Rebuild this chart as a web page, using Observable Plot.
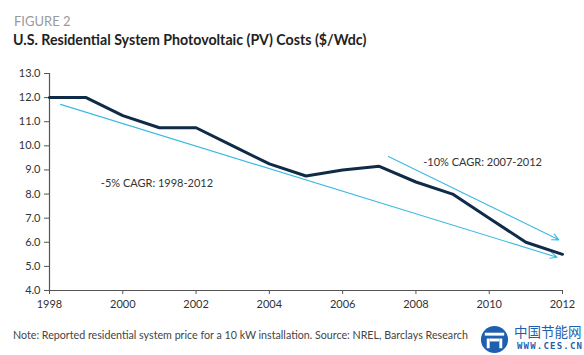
<!DOCTYPE html>
<html>
<head>
<meta charset="utf-8">
<script src="https://cdn.jsdelivr.net/npm/d3@7"></script>
<script src="https://cdn.jsdelivr.net/npm/@observablehq/plot@0.6"></script>
<style>
  html, body { margin: 0; padding: 0; background: #fff; }
  #wrap { position: relative; width: 584px; height: 355px; overflow: hidden; font-family: Lato, "Open Sans", sans-serif; }
  #fig { position: absolute; left: 14px; top: 14px; font-size: 13px; line-height: 15px; color: #9a9a9a; }
  #title { position: absolute; left: 13px; top: 31px; font-size: 14.2px; line-height: 17px; font-weight: bold; color: #222; }
  #chart { position: absolute; left: 0; top: 52px; }
  #note { position: absolute; left: 13px; top: 328px; font-size: 10.7px; color: #444; white-space: nowrap; }
  #logo { position: absolute; left: 479px; top: 324px; }
  #cn { position: absolute; left: 514px; top: 322px; font-family: "Noto Sans CJK SC"; font-size: 13.5px; line-height: 18px; color: #1f5fb0; }
  #url { position: absolute; left: 517px; top: 341px; font-family: "DejaVu Sans Mono"; font-size: 9px; font-weight: bold; color: #1f5fb0; letter-spacing: 1.2px; }
</style>
</head>
<body>
<div id="wrap">
  <div id="fig">FIGURE 2</div>
  <div id="title">U.S. Residential System Photovoltaic (PV) Costs ($/Wdc)</div>
  <div id="chart"></div>
  <div id="note">Note: Reported residential system price for a 10 kW installation. Source: NREL, Barclays Research</div>
  <svg id="logo" width="31" height="31" viewBox="0 0 30 32">
    <circle cx="15" cy="16" r="14" fill="#1f5fb0"/>
    <rect x="5" y="9" width="20" height="3" fill="#fff"/>
    <rect x="7" y="15" width="3" height="10" fill="#fff"/>
    <rect x="20" y="15" width="3" height="10" fill="#fff"/>
    <rect x="10" y="15" width="10" height="3" fill="#fff"/>
  </svg>
  <div id="cn">中国节能网</div>
  <div id="url">WWW.CES.CN</div>
</div>
<script>
// ---- data ----
const years = [1998, 1999, 2000, 2001, 2002, 2003, 2004, 2005, 2006, 2007, 2008, 2009, 2010, 2011, 2012];
const costs = [12.0, 12.0, 11.25, 10.75, 10.75, 10.0, 9.25, 8.75, 9.0, 9.15, 8.5, 8.0, 7.0, 6.0, 5.5];

const trendLabels = ["-5% CAGR: 1998-2012", "-10% CAGR: 2007-2012"];
const trendStartX = [1998.3, 2007.25];
const trendStartY = [11.72, 9.56];
const trendEndX = [2011.85, 2011.9];
const trendEndY = [5.38, 6.1];
const labelX = [1999.4, 2008.2];
const labelY = [8.44, 9.31];

const xTicks = [1998, 2000, 2002, 2004, 2006, 2008, 2010, 2012];
const yTicks = [4, 5, 6, 7, 8, 9, 10, 11, 12, 13];

const series = years.map((y, i) => ({year: y, cost: costs[i]}));
const trends = trendLabels.map((l, i) => ({
  label: l, x1: trendStartX[i], y1: trendStartY[i], x2: trendEndX[i], y2: trendEndY[i],
  lx: labelX[i], ly: labelY[i]
}));

const chart = Plot.plot({
  width: 584,
  height: 265,
  marginTop: 21,
  marginBottom: 27,
  marginLeft: 49,
  marginRight: 22,
  style: {fontFamily: "Lato, 'Open Sans', sans-serif", fontSize: "11px", color: "#333", background: "#fff"},
  x: {domain: [1998, 2012]},
  y: {domain: [4, 13]},
  marks: [
    Plot.axisX({ticks: xTicks, tickFormat: d => String(d), tickSize: 4, tickPadding: 6, stroke: "#555", label: null, fontSize: 11}),
    Plot.axisY({ticks: yTicks, tickFormat: d3.format(".1f"), tickSize: 5, tickPadding: 4, stroke: "#555", label: null, fontSize: 11}),
    Plot.ruleX([1998], {stroke: "#555", strokeWidth: 1.2}),
    Plot.ruleY([4], {stroke: "#555", strokeWidth: 1.2}),
    Plot.arrow(trends, {x1: "x1", y1: "y1", x2: "x2", y2: "y2", stroke: "#3cb9e3", strokeWidth: 1.1, headLength: 10, headAngle: 50}),
    Plot.line(series, {x: "year", y: "cost", stroke: "#0f2b47", strokeWidth: 3, strokeLinejoin: "miter"}),
    Plot.text(trends, {x: "lx", y: "ly", text: "label", textAnchor: "start", fill: "#333", fontSize: 11})
  ]
});
document.getElementById("chart").appendChild(chart);
</script>
</body>
</html>
